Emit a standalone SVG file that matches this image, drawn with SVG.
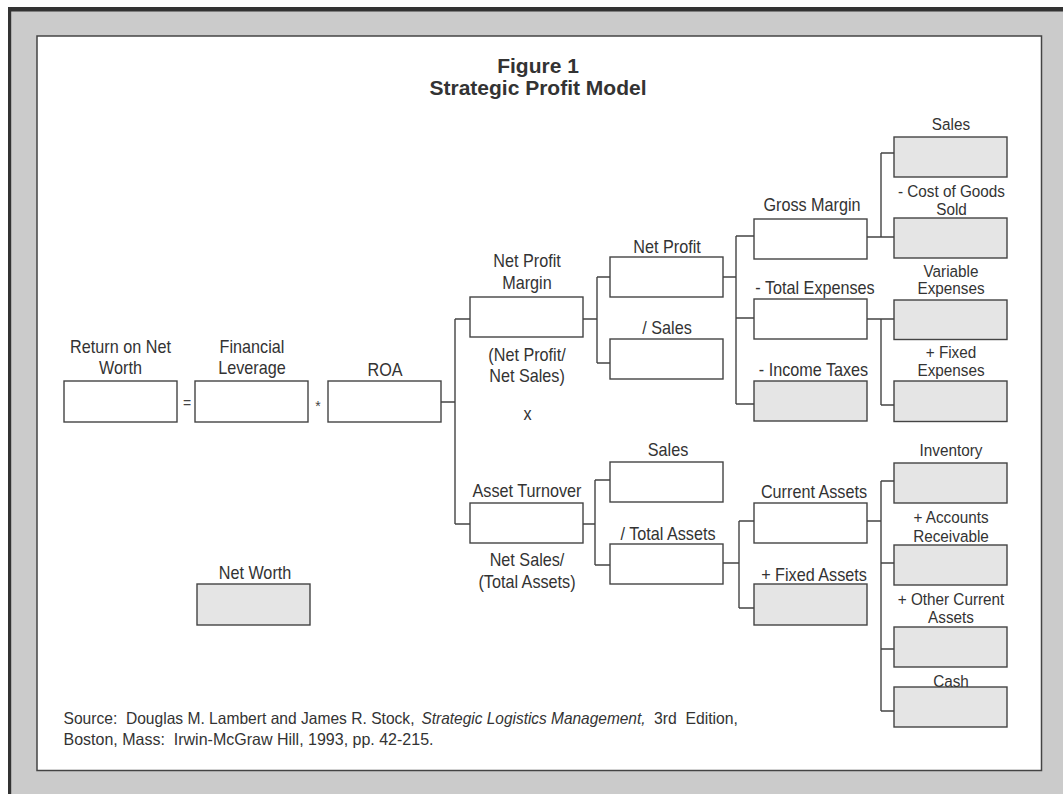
<svg xmlns="http://www.w3.org/2000/svg" width="1063" height="794" viewBox="0 0 1063 794">
<style>
.lbl{font-family:"Liberation Sans",Arial,sans-serif;font-size:18px;fill:#333;text-anchor:middle;transform-box:fill-box;transform-origin:center;transform:scaleX(0.9)}
.sm{font-size:17px}
.op{font-family:"Liberation Sans",Arial,sans-serif;font-size:14px;fill:#444;text-anchor:middle}
.ttl{font-family:"Liberation Sans",Arial,sans-serif;font-size:21px;font-weight:bold;fill:#333;text-anchor:middle}
.src{font-family:"Liberation Sans",Arial,sans-serif;font-size:16.5px;fill:#333}
.b{fill:#fff;stroke:#444;stroke-width:1.4}
.g{fill:#e5e5e5}
.cn{fill:none;stroke:#444;stroke-width:1.4}
</style>
<rect x="0" y="0" width="1063" height="794" fill="#fff"/>
<rect x="10" y="9" width="1053" height="785" fill="#cbcbcb"/>
<rect x="8" y="7" width="1055" height="4.5" fill="#333"/>
<rect x="8" y="7" width="3.2" height="787" fill="#333"/>
<rect x="37" y="36" width="1004.5" height="734.5" fill="#fff" stroke="#444" stroke-width="1.5"/>

<g id="title">
<text class="ttl" x="538" y="73">Figure 1</text>
<text class="ttl" x="538" y="95">Strategic Profit Model</text>
</g>

<g id="connectors">
<path class="cn" d="M441,402H455 M455,319V524 M455,319H470 M455,524H470 M583,319H597 M597,277V363 M597,277H610 M597,363H610 M583,524H595 M595,480V565 M595,480H610 M595,565H610 M723,277H736 M736,236V404 M736,236H754 M736,318H754 M736,404H754 M723,563H739 M739,521V608 M739,521H754 M739,608H754 M867,237H881 M881,153V237 M881,153H894 M881,237H894 M867,319H894 M881,319V405 M881,405H894 M867,521H881 M881,481V711 M881,481H894 M881,563H894 M881,649H894 M881,711H894"/>
</g>

<g id="return-on-net-worth">
<text class="lbl" x="120.5" y="353">Return on Net</text>
<text class="lbl" x="120.5" y="374">Worth</text>
<rect class="b" x="64" y="381" width="113" height="41"/>
</g>
<text class="op" x="187" y="408">=</text>
<g id="financial-leverage">
<text class="lbl" x="252" y="353">Financial</text>
<text class="lbl" x="252" y="374">Leverage</text>
<rect class="b" x="195" y="381" width="113" height="41"/>
</g>
<text class="op" x="318" y="411">*</text>
<g id="roa">
<text class="lbl" x="385" y="376">ROA</text>
<rect class="b" x="328" y="381" width="113" height="41"/>
</g>
<g id="net-worth">
<text class="lbl" x="255" y="579">Net Worth</text>
<rect class="b g" x="197" y="584" width="113" height="41"/>
</g>

<g id="net-profit-margin">
<text class="lbl" x="527" y="267">Net Profit</text>
<text class="lbl" x="527" y="289">Margin</text>
<rect class="b" x="470" y="297" width="113" height="40"/>
<text class="lbl" x="527" y="361">(Net Profit/</text>
<text class="lbl" x="527" y="382">Net Sales)</text>
</g>
<text class="lbl" x="527.5" y="420">x</text>
<g id="asset-turnover">
<text class="lbl" x="527" y="497">Asset Turnover</text>
<rect class="b" x="470" y="503" width="113" height="40"/>
<text class="lbl" x="527" y="566">Net Sales/</text>
<text class="lbl" x="527" y="588">(Total Assets)</text>
</g>

<g id="net-profit">
<text class="lbl" x="667" y="253">Net Profit</text>
<rect class="b" x="610" y="257" width="113" height="40"/>
</g>
<g id="div-sales">
<text class="lbl" x="667" y="334">/ Sales</text>
<rect class="b" x="610" y="339" width="113" height="40"/>
</g>
<g id="sales-at">
<text class="lbl" x="668" y="456.5">Sales</text>
<rect class="b" x="610" y="462" width="113" height="40"/>
</g>
<g id="div-total-assets">
<text class="lbl" x="668" y="540">/ Total Assets</text>
<rect class="b" x="610" y="544" width="113" height="40"/>
</g>

<g id="gross-margin">
<text class="lbl" x="812" y="211">Gross Margin</text>
<rect class="b" x="754" y="219" width="113" height="40"/>
</g>
<g id="total-expenses">
<text class="lbl" x="815" y="294">- Total Expenses</text>
<rect class="b" x="754" y="299" width="113" height="40"/>
</g>
<g id="income-taxes">
<text class="lbl" x="813.5" y="376">- Income Taxes</text>
<rect class="b g" x="754" y="381" width="113" height="40"/>
</g>
<g id="current-assets">
<text class="lbl" x="814" y="498">Current Assets</text>
<rect class="b" x="754" y="503" width="113" height="40"/>
</g>
<g id="fixed-assets">
<text class="lbl" x="814" y="581">+ Fixed Assets</text>
<rect class="b g" x="754" y="584" width="113" height="41"/>
</g>

<g id="sales">
<text class="lbl sm" x="951" y="130">Sales</text>
<rect class="b g" x="894" y="137" width="113" height="40"/>
</g>
<g id="cost-of-goods-sold">
<text class="lbl sm" x="951.5" y="197">- Cost of Goods</text>
<text class="lbl sm" x="951.5" y="215">Sold</text>
<rect class="b g" x="894" y="218" width="113" height="40"/>
</g>
<g id="variable-expenses">
<text class="lbl sm" x="951" y="277">Variable</text>
<text class="lbl sm" x="951" y="294.5">Expenses</text>
<rect class="b g" x="894" y="300" width="113" height="39.5"/>
</g>
<g id="fixed-expenses">
<text class="lbl sm" x="951" y="358.5">+ Fixed</text>
<text class="lbl sm" x="951" y="376">Expenses</text>
<rect class="b g" x="894" y="381" width="113" height="40.5"/>
</g>
<g id="inventory">
<text class="lbl sm" x="951" y="456.5">Inventory</text>
<rect class="b g" x="894" y="463" width="113" height="40"/>
</g>
<g id="accounts-receivable">
<text class="lbl sm" x="951" y="523.5">+ Accounts</text>
<text class="lbl sm" x="951" y="542">Receivable</text>
<rect class="b g" x="894" y="545" width="113" height="40"/>
</g>
<g id="other-current-assets">
<text class="lbl sm" x="951" y="605">+ Other Current</text>
<text class="lbl sm" x="951" y="623.5">Assets</text>
<rect class="b g" x="894" y="627" width="113" height="40"/>
</g>
<g id="cash">
<rect class="b g" x="894" y="687" width="113" height="40"/>
<text class="lbl sm" x="951" y="687.5">Cash</text>
</g>

<g id="source">
<text class="src" x="63.5" y="723.5" xml:space="preserve" textLength="351" lengthAdjust="spacingAndGlyphs">Source:  Douglas M. Lambert and James R. Stock,</text>
<text class="src" x="421.5" y="723.5" font-style="italic" textLength="224" lengthAdjust="spacingAndGlyphs">Strategic Logistics Management,</text>
<text class="src" x="654" y="723.5" xml:space="preserve" textLength="84" lengthAdjust="spacingAndGlyphs">3rd  Edition,</text>
<text class="src" x="63.5" y="745" xml:space="preserve" textLength="370" lengthAdjust="spacingAndGlyphs">Boston, Mass:  Irwin-McGraw Hill, 1993, pp. 42-215.</text>
</g>
</svg>
